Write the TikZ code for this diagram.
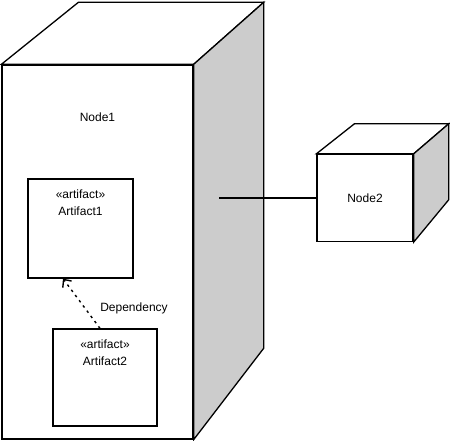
\documentclass[tikz,border=0pt]{standalone}
\usepackage{fontspec}
\setmainfont{Liberation Sans}
\usetikzlibrary{positioning,calc,arrows.meta}

\begin{document}
\begin{tikzpicture}[
  x=1pt, y=1pt,
  front/.style={rectangle, draw, line width=1.3pt, fill=white, inner sep=0pt},
  side/.style={draw, line width=1.3pt, line join=miter, fill=black!20},
  topface/.style={draw, line width=1.3pt, line join=miter, fill=white},
  artifact/.style={rectangle, draw, line width=1.3pt, fill=white, inner sep=0pt},
  lbl/.style={font=\fontsize{12}{17}\selectfont, align=center, inner sep=1pt},
  dep/.style={line width=1.4pt, dash pattern=on 2.5pt off 4pt, -{Straight Barb[length=6pt,width=11pt]}}
]
\useasboundingbox (0,0) rectangle (450,441);

% big node
\node[front, minimum width=191, minimum height=374] (node1) at (97.5,189) {};
\draw[topface] (node1.north west) -- ++(77,62) -- ($(node1.north east)+(70,62)$) -- (node1.north east) -- cycle;
\draw[side] (node1.north east) -- ++(70,62) -- ++(0,-346) -- (node1.south east) -- cycle;
\node[lbl, below=47pt] (node1name) at (node1.north) {Node1};

% small node
\node[front, minimum width=96, minimum height=87] (node2) at (365,243) {};
\draw[topface] (node2.north west) -- ++(38,30) -- ($(node2.north east)+(35,30)$) -- (node2.north east) -- cycle;
\draw[side] (node2.north east) -- ++(35,30) -- ++(0,-76) -- (node2.south east) -- cycle;
\node[lbl] (node2name) at (node2.center) {Node2};

% artifacts
\node[artifact, minimum width=105, minimum height=99] (art1) at (80.5,212.5) {};
\node[lbl, below=10pt] (art1name) at (art1.north) {«artifact»\\Artifact1};
\node[artifact, minimum width=104, minimum height=97] (art2) at (105,63.5) {};
\node[lbl, below=10pt] (art2name) at (art2.north) {«artifact»\\Artifact2};

% connectors
\coordinate (port) at ($(node2.west)+(-97,0)$);
\draw[line width=1.3pt] (port) -- (node2.west);
\draw[dep] ([xshift=-5pt]art2.north) -- ([xshift=-17.5pt]art1.south);
\node[lbl] (deplbl) at (134,133) {Dependency};
\end{tikzpicture}
\end{document}
